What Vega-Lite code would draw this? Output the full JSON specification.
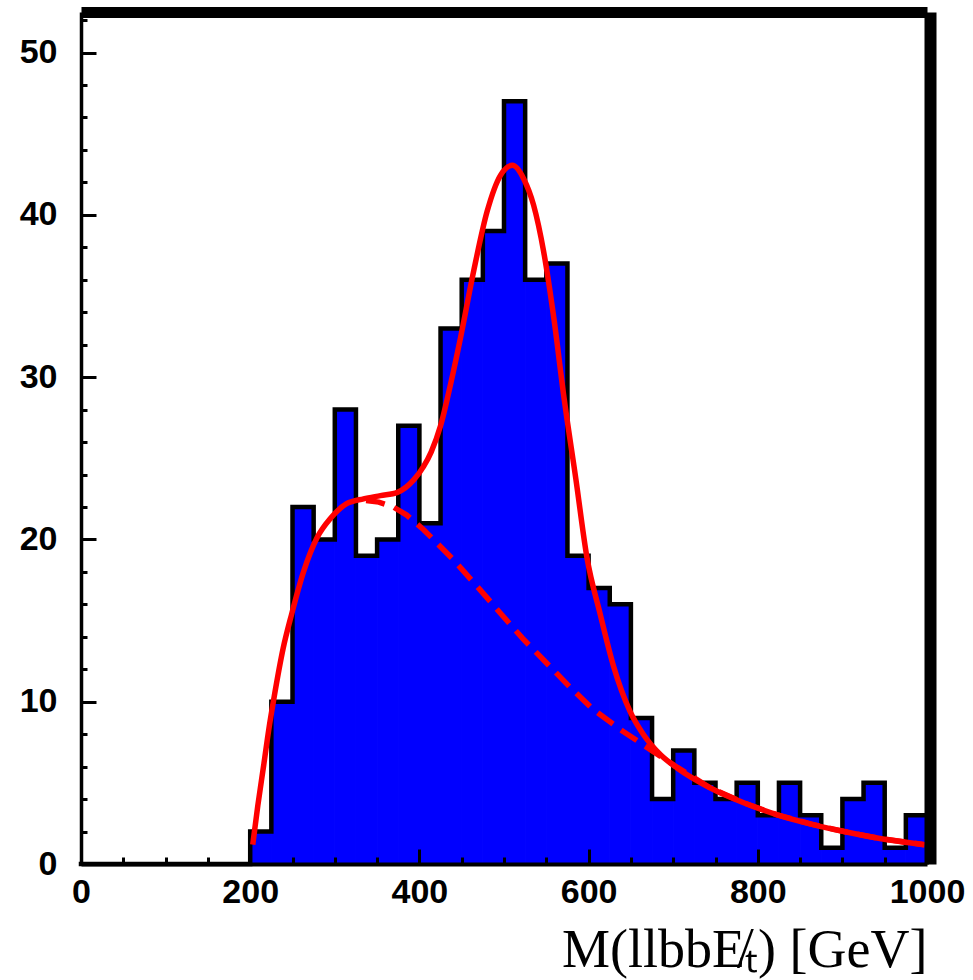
{
  "$schema": "https://vega.github.io/schema/vega-lite/v6.json",
  "autosize": {"type": "none"},
  "width": 846,
  "height": 852,
  "padding": {"left": 81, "top": 12, "right": 46, "bottom": 116},
  "background": "white",
  "config": {"view": {"stroke": null}},
  "datasets": {
    "hist": [
      {"start": 0, "end": 25, "count": 0}, {"start": 25, "end": 50, "count": 0},
      {"start": 50, "end": 75, "count": 0}, {"start": 75, "end": 100, "count": 0},
      {"start": 100, "end": 125, "count": 0}, {"start": 125, "end": 150, "count": 0},
      {"start": 150, "end": 175, "count": 0}, {"start": 175, "end": 200, "count": 0},
      {"start": 200, "end": 225, "count": 2}, {"start": 225, "end": 250, "count": 10},
      {"start": 250, "end": 275, "count": 22}, {"start": 275, "end": 300, "count": 20},
      {"start": 300, "end": 325, "count": 28}, {"start": 325, "end": 350, "count": 19},
      {"start": 350, "end": 375, "count": 20}, {"start": 375, "end": 400, "count": 27},
      {"start": 400, "end": 425, "count": 21}, {"start": 425, "end": 450, "count": 33},
      {"start": 450, "end": 475, "count": 36}, {"start": 475, "end": 500, "count": 39},
      {"start": 500, "end": 525, "count": 47}, {"start": 525, "end": 550, "count": 36},
      {"start": 550, "end": 575, "count": 37}, {"start": 575, "end": 600, "count": 19},
      {"start": 600, "end": 625, "count": 17}, {"start": 625, "end": 650, "count": 16},
      {"start": 650, "end": 675, "count": 9}, {"start": 675, "end": 700, "count": 4},
      {"start": 700, "end": 725, "count": 7}, {"start": 725, "end": 750, "count": 5},
      {"start": 750, "end": 775, "count": 4}, {"start": 775, "end": 800, "count": 5},
      {"start": 800, "end": 825, "count": 3}, {"start": 825, "end": 850, "count": 5},
      {"start": 850, "end": 875, "count": 3}, {"start": 875, "end": 900, "count": 1},
      {"start": 900, "end": 925, "count": 4}, {"start": 925, "end": 950, "count": 5},
      {"start": 950, "end": 975, "count": 1}, {"start": 975, "end": 1000, "count": 3}
    ],
    "fit": [
      {"m": 203, "y": 1.2}, {"m": 209, "y": 3.6}, {"m": 216, "y": 6.1}, {"m": 222, "y": 8.3},
      {"m": 228, "y": 10.2}, {"m": 239, "y": 13.3}, {"m": 249, "y": 15.4}, {"m": 263, "y": 18.0},
      {"m": 279, "y": 20.1}, {"m": 295, "y": 21.3}, {"m": 314, "y": 22.2}, {"m": 334, "y": 22.5},
      {"m": 354, "y": 22.7}, {"m": 374, "y": 22.9}, {"m": 393, "y": 23.65}, {"m": 405, "y": 24.5},
      {"m": 414, "y": 25.4}, {"m": 425, "y": 27.0}, {"m": 437, "y": 29.6}, {"m": 448.5, "y": 32.4},
      {"m": 464, "y": 36.5}, {"m": 480, "y": 40.2}, {"m": 496, "y": 42.45}, {"m": 510, "y": 43.05},
      {"m": 523.5, "y": 42.2}, {"m": 535, "y": 40.6}, {"m": 547, "y": 37.7}, {"m": 559, "y": 33.6},
      {"m": 571, "y": 28.7}, {"m": 585, "y": 23.7}, {"m": 598, "y": 18.9}, {"m": 613.7, "y": 15.4},
      {"m": 629.4, "y": 12.2}, {"m": 649, "y": 9.4}, {"m": 665, "y": 7.96}, {"m": 685, "y": 6.73},
      {"m": 705, "y": 5.9}, {"m": 744, "y": 4.68}, {"m": 784, "y": 3.76}, {"m": 823, "y": 3.03},
      {"m": 863, "y": 2.46}, {"m": 902, "y": 2.0}, {"m": 941, "y": 1.6}, {"m": 997, "y": 1.19}
    ],
    "bkg": [
      {"m": 337, "y": 22.4}, {"m": 352, "y": 22.3}, {"m": 369, "y": 22.0}, {"m": 385, "y": 21.5},
      {"m": 405, "y": 20.6}, {"m": 440, "y": 18.76}, {"m": 470, "y": 17.0}, {"m": 495, "y": 15.5},
      {"m": 522, "y": 13.9}, {"m": 550, "y": 12.4}, {"m": 578, "y": 10.9}, {"m": 606, "y": 9.5},
      {"m": 640, "y": 8.2}, {"m": 673, "y": 7.05}, {"m": 705, "y": 5.95}, {"m": 744, "y": 4.68},
      {"m": 784, "y": 3.76}, {"m": 823, "y": 3.03}, {"m": 863, "y": 2.46}, {"m": 902, "y": 2.0},
      {"m": 941, "y": 1.6}, {"m": 997, "y": 1.19}
    ]
  },
  "layer": [
    {
      "data": {"name": "hist"},
      "mark": {"type": "rect", "fill": "#0000ff", "stroke": "#0000ff", "strokeWidth": 1, "opacity": 1},
      "encoding": {
        "x": {
          "field": "start", "type": "quantitative",
          "scale": {"domain": [0, 1000], "nice": false, "zero": false},
          "axis": {
            "orient": "bottom",
            "values": [0, 50, 100, 150, 200, 250, 300, 350, 400, 450, 500, 550, 600, 650, 700, 750, 800, 850, 900, 950, 1000],
            "format": "d",
            "labelExpr": "datum.value % 200 === 0 ? datum.label : ''",
            "tickSize": {"condition": {"test": "datum.value % 200 === 0", "value": -15}, "value": -7},
            "tickWidth": 3, "tickColor": "black",
            "domainWidth": 4, "domainColor": "black",
            "labelFont": "Liberation Sans", "labelFontWeight": "bold", "labelFontSize": 34,
            "labelColor": "black", "labelPadding": 26, "labelFlush": false, "labelOverlap": false,
            "grid": false,
            "title": "M(llbbE̸ₜ) [GeV]",
            "titleFont": "Liberation Serif", "titleFontWeight": "normal", "titleFontSize": 54,
            "titleColor": "black", "titleAnchor": "end", "titleAlign": "right", "titlePadding": 6,
            "zindex": 1
          }
        },
        "x2": {"field": "end"},
        "y": {
          "field": "count", "type": "quantitative",
          "scale": {"domain": [0, 52.5], "nice": false},
          "axis": {
            "orient": "left",
            "values": [0, 2, 4, 6, 8, 10, 12, 14, 16, 18, 20, 22, 24, 26, 28, 30, 32, 34, 36, 38, 40, 42, 44, 46, 48, 50, 52],
            "format": "d",
            "labelExpr": "datum.value % 10 === 0 ? datum.label : ''",
            "tickSize": {"condition": {"test": "datum.value % 10 === 0", "value": -15}, "value": -6},
            "tickWidth": 3, "tickColor": "black",
            "domainWidth": 3.5, "domainColor": "black",
            "labelFont": "Liberation Sans", "labelFontWeight": "bold", "labelFontSize": 34,
            "labelColor": "black", "labelPadding": 39, "labelFlush": false, "labelOverlap": false,
            "grid": false, "title": null, "zindex": 1
          }
        },
        "y2": {"datum": 0}
      }
    },
    {
      "data": {"name": "hist"},
      "transform": [{"fold": ["start", "end"]}],
      "mark": {"type": "line", "color": "black", "strokeWidth": 4.5, "strokeJoin": "miter", "strokeCap": "square"},
      "encoding": {
        "x": {
          "field": "value", "type": "quantitative",
          "axis": {"orient": "top", "domainWidth": 11, "domainColor": "black", "ticks": false, "labels": false, "grid": false, "title": null, "zindex": 2}
        },
        "y": {
          "field": "count", "type": "quantitative",
          "axis": {"orient": "right", "domainWidth": 12, "domainColor": "black", "offset": 3, "ticks": false, "labels": false, "grid": false, "title": null, "zindex": 2}
        },
        "order": [{"field": "value", "type": "quantitative"}, {"field": "key", "type": "nominal"}]
      }
    },
    {
      "data": {"name": "bkg"},
      "mark": {"type": "line", "color": "#ff0000", "strokeWidth": 5.5, "strokeDash": [19, 10]},
      "encoding": {
        "x": {"field": "m", "type": "quantitative", "axis": null},
        "y": {"field": "y", "type": "quantitative", "axis": null}
      }
    },
    {
      "data": {"name": "fit"},
      "mark": {"type": "line", "color": "#ff0000", "strokeWidth": 5.5, "interpolate": "monotone"},
      "encoding": {
        "x": {"field": "m", "type": "quantitative", "axis": null},
        "y": {"field": "y", "type": "quantitative", "axis": null}
      }
    }
  ],
  "resolve": {"axis": {"x": "independent", "y": "independent"}}
}
